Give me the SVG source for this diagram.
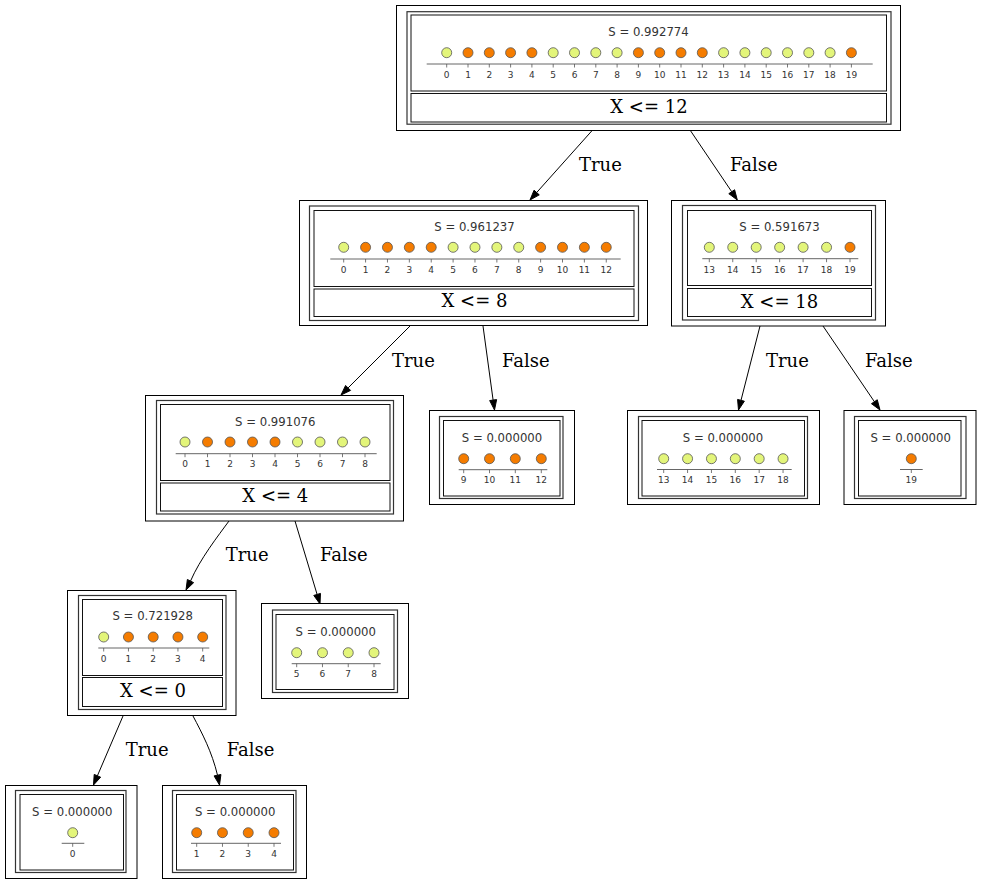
<svg xmlns="http://www.w3.org/2000/svg" width="981" height="885" viewBox="0 0 981 885">
<style>
.bg{fill:#fff}
.outer{fill:#fff;stroke:#000;stroke-width:1}
.tbl{fill:none;stroke:#333;stroke-width:1.2}
.cell{fill:none;stroke:#111;stroke-width:1}
.s{font-family:"DejaVu Sans",sans-serif;font-size:11.7px;fill:#333;text-anchor:middle}
.lb{font-family:"DejaVu Sans",sans-serif;font-size:9px;fill:#333;text-anchor:middle}
.ax{stroke:#555;stroke-width:0.9;fill:none}
.tk{stroke:#555;stroke-width:0.8;fill:none}
.dl{fill:#e3f57a;stroke:#555;stroke-width:0.8}
.do{fill:#f57c00;stroke:#555;stroke-width:0.8}
.split{font-family:"DejaVu Serif",serif;font-size:18px;fill:#000;text-anchor:middle}
.el{font-family:"DejaVu Serif",serif;font-size:18px;fill:#000}
.edge{stroke:#000;stroke-width:1;fill:none}
.ah{fill:#000;stroke:#000;stroke-width:1}
</style>
<rect class="bg" x="0" y="0" width="981" height="885"/>

<g id="connectors">
<path class="edge" d="M591.7,131 L536.7,192.5"/>
<polygon class="ah" points="530,200 539.28,194.87 534.06,190.21"/>
<text class="el" x="579" y="170.7">True</text>
<path class="edge" d="M690.7,131 L731.7,191.7"/>
<polygon class="ah" points="737.3,200 734.6,189.75 728.8,193.67"/>
<text class="el" x="730" y="170.7">False</text>

<path class="edge" d="M410,326 L348.1,387.9"/>
<polygon class="ah" points="341,395 350.54,390.4 345.6,385.46"/>
<text class="el" x="392" y="366.5">True</text>
<path class="edge" d="M483,326 L493.1,400.1"/>
<polygon class="ah" points="494.5,410 496.61,399.62 489.67,400.56"/>
<text class="el" x="502" y="366.5">False</text>

<path class="edge" d="M760,326 L741,400.3"/>
<polygon class="ah" points="738.5,410 744.37,401.18 737.59,399.44"/>
<text class="el" x="766" y="366.5">True</text>
<path class="edge" d="M823,326 L874.4,401.7"/>
<polygon class="ah" points="880,410 877.28,399.75 871.48,403.69"/>
<text class="el" x="865" y="366.5">False</text>

<path class="edge" d="M229,521 C218,536 200,559 190.5,581.1"/>
<polygon class="ah" points="186,590 193.63,582.65 187.37,579.49"/>
<text class="el" x="225.7" y="560.5">True</text>
<path class="edge" d="M295,521 L317.1,594.4"/>
<polygon class="ah" points="320,604 320.47,593.41 313.77,595.43"/>
<text class="el" x="320" y="560.5">False</text>

<path class="edge" d="M123,716 L97.4,775.8"/>
<polygon class="ah" points="93.5,785 100.65,777.18 94.21,774.42"/>
<text class="el" x="125.7" y="755.5">True</text>
<path class="edge" d="M193,716 C202,733 212,752 217.5,775.2"/>
<polygon class="ah" points="219.5,785 220.93,774.5 214.07,775.9"/>
<text class="el" x="226.7" y="755.5">False</text>
</g>

<g id="root">
<rect class="outer" x="396.5" y="5.5" width="504" height="125"/>
<rect class="tbl" x="407" y="11.7" width="484" height="112.5"/>
<rect class="cell" x="411" y="15" width="475.5" height="76"/>
<rect class="cell" x="411" y="93.5" width="475.5" height="28.5"/>
<text class="s" x="648.5" y="36">S = 0.992774</text>
<line class="ax" x1="426.7" y1="64" x2="872.7" y2="64"/>
<path class="tk" d="M446.7,64v3.5M468,64v3.5M489.3,64v3.5M510.6,64v3.5M531.9,64v3.5M553.2,64v3.5M574.5,64v3.5M595.8,64v3.5M617.1,64v3.5M638.4,64v3.5M659.7,64v3.5M681,64v3.5M702.3,64v3.5M723.6,64v3.5M744.9,64v3.5M766.2,64v3.5M787.5,64v3.5M808.8,64v3.5M830.1,64v3.5M851.4,64v3.5"/>
<circle class="dl" cx="446.7" cy="52.7" r="5"/>
<circle class="do" cx="468" cy="52.7" r="5"/>
<circle class="do" cx="489.3" cy="52.7" r="5"/>
<circle class="do" cx="510.6" cy="52.7" r="5"/>
<circle class="do" cx="531.9" cy="52.7" r="5"/>
<circle class="dl" cx="553.2" cy="52.7" r="5"/>
<circle class="dl" cx="574.5" cy="52.7" r="5"/>
<circle class="dl" cx="595.8" cy="52.7" r="5"/>
<circle class="dl" cx="617.1" cy="52.7" r="5"/>
<circle class="do" cx="638.4" cy="52.7" r="5"/>
<circle class="do" cx="659.7" cy="52.7" r="5"/>
<circle class="do" cx="681" cy="52.7" r="5"/>
<circle class="do" cx="702.3" cy="52.7" r="5"/>
<circle class="dl" cx="723.6" cy="52.7" r="5"/>
<circle class="dl" cx="744.9" cy="52.7" r="5"/>
<circle class="dl" cx="766.2" cy="52.7" r="5"/>
<circle class="dl" cx="787.5" cy="52.7" r="5"/>
<circle class="dl" cx="808.8" cy="52.7" r="5"/>
<circle class="dl" cx="830.1" cy="52.7" r="5"/>
<circle class="do" cx="851.4" cy="52.7" r="5"/>
<text class="lb" x="446.7" y="78.3">0</text>
<text class="lb" x="468" y="78.3">1</text>
<text class="lb" x="489.3" y="78.3">2</text>
<text class="lb" x="510.6" y="78.3">3</text>
<text class="lb" x="531.9" y="78.3">4</text>
<text class="lb" x="553.2" y="78.3">5</text>
<text class="lb" x="574.5" y="78.3">6</text>
<text class="lb" x="595.8" y="78.3">7</text>
<text class="lb" x="617.1" y="78.3">8</text>
<text class="lb" x="638.4" y="78.3">9</text>
<text class="lb" x="659.7" y="78.3">10</text>
<text class="lb" x="681" y="78.3">11</text>
<text class="lb" x="702.3" y="78.3">12</text>
<text class="lb" x="723.6" y="78.3">13</text>
<text class="lb" x="744.9" y="78.3">14</text>
<text class="lb" x="766.2" y="78.3">15</text>
<text class="lb" x="787.5" y="78.3">16</text>
<text class="lb" x="808.8" y="78.3">17</text>
<text class="lb" x="830.1" y="78.3">18</text>
<text class="lb" x="851.4" y="78.3">19</text>
<text class="split" x="649" y="113.3">X &lt;= 12</text>
</g>

<g id="node-x8">
<rect class="outer" x="299.5" y="200.5" width="348" height="125"/>
<rect class="tbl" x="309.5" y="206" width="329" height="114.5"/>
<rect class="cell" x="314" y="210.5" width="320" height="76"/>
<rect class="cell" x="314" y="289" width="320" height="27.5"/>
<text class="s" x="474.5" y="230.5">S = 0.961237</text>
<line class="ax" x1="330.3" y1="259" x2="620.7" y2="259"/>
<path class="tk" d="M343.7,259v3.5M365.58,259v3.5M387.46,259v3.5M409.34,259v3.5M431.22,259v3.5M453.1,259v3.5M474.98,259v3.5M496.86,259v3.5M518.74,259v3.5M540.62,259v3.5M562.5,259v3.5M584.38,259v3.5M606.26,259v3.5"/>
<circle class="dl" cx="343.7" cy="247.3" r="5"/>
<circle class="do" cx="365.58" cy="247.3" r="5"/>
<circle class="do" cx="387.46" cy="247.3" r="5"/>
<circle class="do" cx="409.34" cy="247.3" r="5"/>
<circle class="do" cx="431.22" cy="247.3" r="5"/>
<circle class="dl" cx="453.1" cy="247.3" r="5"/>
<circle class="dl" cx="474.98" cy="247.3" r="5"/>
<circle class="dl" cx="496.86" cy="247.3" r="5"/>
<circle class="dl" cx="518.74" cy="247.3" r="5"/>
<circle class="do" cx="540.62" cy="247.3" r="5"/>
<circle class="do" cx="562.5" cy="247.3" r="5"/>
<circle class="do" cx="584.38" cy="247.3" r="5"/>
<circle class="do" cx="606.26" cy="247.3" r="5"/>
<text class="lb" x="343.7" y="273">0</text>
<text class="lb" x="365.58" y="273">1</text>
<text class="lb" x="387.46" y="273">2</text>
<text class="lb" x="409.34" y="273">3</text>
<text class="lb" x="431.22" y="273">4</text>
<text class="lb" x="453.1" y="273">5</text>
<text class="lb" x="474.98" y="273">6</text>
<text class="lb" x="496.86" y="273">7</text>
<text class="lb" x="518.74" y="273">8</text>
<text class="lb" x="540.62" y="273">9</text>
<text class="lb" x="562.5" y="273">10</text>
<text class="lb" x="584.38" y="273">11</text>
<text class="lb" x="606.26" y="273">12</text>
<text class="split" x="474.5" y="307.3">X &lt;= 8</text>
</g>

<g id="node-x18">
<rect class="outer" x="671.5" y="200.5" width="214" height="125.5"/>
<rect class="tbl" x="682.5" y="205.5" width="193" height="114.5"/>
<rect class="cell" x="687.5" y="210.5" width="184" height="75"/>
<rect class="cell" x="687.5" y="288.5" width="184" height="28"/>
<text class="s" x="779.5" y="230.5">S = 0.591673</text>
<line class="ax" x1="702.3" y1="258.7" x2="858.3" y2="258.7"/>
<path class="tk" d="M709.3,258.7v3.5M732.75,258.7v3.5M756.2,258.7v3.5M779.65,258.7v3.5M803.1,258.7v3.5M826.55,258.7v3.5M850,258.7v3.5"/>
<circle class="dl" cx="709.3" cy="247.3" r="5"/>
<circle class="dl" cx="732.75" cy="247.3" r="5"/>
<circle class="dl" cx="756.2" cy="247.3" r="5"/>
<circle class="dl" cx="779.65" cy="247.3" r="5"/>
<circle class="dl" cx="803.1" cy="247.3" r="5"/>
<circle class="dl" cx="826.55" cy="247.3" r="5"/>
<circle class="do" cx="850" cy="247.3" r="5"/>
<text class="lb" x="709.3" y="272.5">13</text>
<text class="lb" x="732.75" y="272.5">14</text>
<text class="lb" x="756.2" y="272.5">15</text>
<text class="lb" x="779.65" y="272.5">16</text>
<text class="lb" x="803.1" y="272.5">17</text>
<text class="lb" x="826.55" y="272.5">18</text>
<text class="lb" x="850" y="272.5">19</text>
<text class="split" x="779.5" y="308">X &lt;= 18</text>
</g>

<g id="node-x4">
<rect class="outer" x="145.5" y="395.5" width="258" height="125.5"/>
<rect class="tbl" x="156.5" y="400.5" width="237" height="113.5"/>
<rect class="cell" x="160.5" y="404.5" width="229.5" height="76"/>
<rect class="cell" x="160.5" y="483" width="229.5" height="28"/>
<text class="s" x="275.3" y="425.5">S = 0.991076</text>
<line class="ax" x1="175.7" y1="453.7" x2="376.7" y2="453.7"/>
<path class="tk" d="M185,453.7v3.5M207.5,453.7v3.5M230,453.7v3.5M252.5,453.7v3.5M275,453.7v3.5M297.5,453.7v3.5M320,453.7v3.5M342.5,453.7v3.5M365,453.7v3.5"/>
<circle class="dl" cx="185" cy="442" r="5"/>
<circle class="do" cx="207.5" cy="442" r="5"/>
<circle class="do" cx="230" cy="442" r="5"/>
<circle class="do" cx="252.5" cy="442" r="5"/>
<circle class="do" cx="275" cy="442" r="5"/>
<circle class="dl" cx="297.5" cy="442" r="5"/>
<circle class="dl" cx="320" cy="442" r="5"/>
<circle class="dl" cx="342.5" cy="442" r="5"/>
<circle class="dl" cx="365" cy="442" r="5"/>
<text class="lb" x="185" y="467.3">0</text>
<text class="lb" x="207.5" y="467.3">1</text>
<text class="lb" x="230" y="467.3">2</text>
<text class="lb" x="252.5" y="467.3">3</text>
<text class="lb" x="275" y="467.3">4</text>
<text class="lb" x="297.5" y="467.3">5</text>
<text class="lb" x="320" y="467.3">6</text>
<text class="lb" x="342.5" y="467.3">7</text>
<text class="lb" x="365" y="467.3">8</text>
<text class="split" x="275.3" y="502.3">X &lt;= 4</text>
</g>

<g id="leaf-9-12">
<rect class="outer" x="429.5" y="410.5" width="145" height="94"/>
<rect class="tbl" x="439.5" y="416.5" width="123.5" height="82"/>
<rect class="cell" x="443.5" y="420.5" width="116.5" height="75.5"/>
<text class="s" x="502" y="441.5">S = 0.000000</text>
<line class="ax" x1="458.7" y1="469.7" x2="547.3" y2="469.7"/>
<path class="tk" d="M463.7,469.7v3.5M489.5,469.7v3.5M515.3,469.7v3.5M541.3,469.7v3.5"/>
<circle class="do" cx="463.7" cy="458.7" r="5"/>
<circle class="do" cx="489.5" cy="458.7" r="5"/>
<circle class="do" cx="515.3" cy="458.7" r="5"/>
<circle class="do" cx="541.3" cy="458.7" r="5"/>
<text class="lb" x="463.7" y="483.3">9</text>
<text class="lb" x="489.5" y="483.3">10</text>
<text class="lb" x="515.3" y="483.3">11</text>
<text class="lb" x="541.3" y="483.3">12</text>
</g>

<g id="leaf-13-18">
<rect class="outer" x="627.5" y="410.5" width="192" height="94"/>
<rect class="tbl" x="638.5" y="416.5" width="169" height="82"/>
<rect class="cell" x="642" y="420.5" width="162.5" height="75.5"/>
<text class="s" x="723" y="441.5">S = 0.000000</text>
<line class="ax" x1="657" y1="469.5" x2="791.7" y2="469.5"/>
<path class="tk" d="M663.7,469.5v3.5M687.57,469.5v3.5M711.44,469.5v3.5M735.31,469.5v3.5M759.18,469.5v3.5M783.05,469.5v3.5"/>
<circle class="dl" cx="663.7" cy="458.7" r="5"/>
<circle class="dl" cx="687.57" cy="458.7" r="5"/>
<circle class="dl" cx="711.44" cy="458.7" r="5"/>
<circle class="dl" cx="735.31" cy="458.7" r="5"/>
<circle class="dl" cx="759.18" cy="458.7" r="5"/>
<circle class="dl" cx="783.05" cy="458.7" r="5"/>
<text class="lb" x="663.7" y="483">13</text>
<text class="lb" x="687.57" y="483">14</text>
<text class="lb" x="711.44" y="483">15</text>
<text class="lb" x="735.31" y="483">16</text>
<text class="lb" x="759.18" y="483">17</text>
<text class="lb" x="783.05" y="483">18</text>
</g>

<g id="leaf-19">
<rect class="outer" x="844" y="410.5" width="132" height="94"/>
<rect class="tbl" x="854.5" y="416.5" width="111.5" height="82"/>
<rect class="cell" x="858.5" y="420.5" width="102.5" height="75.5"/>
<text class="s" x="910.7" y="441.5">S = 0.000000</text>
<line class="ax" x1="900" y1="469.5" x2="922.7" y2="469.5"/>
<path class="tk" d="M911.3,469.5v3.5"/>
<circle class="do" cx="911.3" cy="458.7" r="5"/>
<text class="lb" x="911.3" y="483">19</text>
</g>

<g id="node-x0">
<rect class="outer" x="67.5" y="590.5" width="168.5" height="125"/>
<rect class="tbl" x="78.5" y="595.5" width="147.5" height="114"/>
<rect class="cell" x="82.5" y="599.5" width="140" height="76"/>
<rect class="cell" x="82.5" y="677.5" width="140" height="29"/>
<text class="s" x="152.7" y="619.5">S = 0.721928</text>
<line class="ax" x1="98.3" y1="648" x2="209.3" y2="648"/>
<path class="tk" d="M103.7,648v3.5M128.45,648v3.5M153.2,648v3.5M177.95,648v3.5M202.7,648v3.5"/>
<circle class="dl" cx="103.7" cy="637" r="5"/>
<circle class="do" cx="128.45" cy="637" r="5"/>
<circle class="do" cx="153.2" cy="637" r="5"/>
<circle class="do" cx="177.95" cy="637" r="5"/>
<circle class="do" cx="202.7" cy="637" r="5"/>
<text class="lb" x="103.7" y="662.3">0</text>
<text class="lb" x="128.45" y="662.3">1</text>
<text class="lb" x="153.2" y="662.3">2</text>
<text class="lb" x="177.95" y="662.3">3</text>
<text class="lb" x="202.7" y="662.3">4</text>
<text class="split" x="153" y="697.3">X &lt;= 0</text>
</g>

<g id="leaf-5-8">
<rect class="outer" x="261.5" y="603.5" width="147" height="95"/>
<rect class="tbl" x="272.5" y="610" width="125" height="82.5"/>
<rect class="cell" x="276" y="614.5" width="118" height="75"/>
<text class="s" x="335.8" y="636.3">S = 0.000000</text>
<line class="ax" x1="291.7" y1="663.7" x2="380.7" y2="663.7"/>
<path class="tk" d="M296.7,663.7v3.5M322.47,663.7v3.5M348.24,663.7v3.5M374,663.7v3.5"/>
<circle class="dl" cx="296.7" cy="652.7" r="5"/>
<circle class="dl" cx="322.47" cy="652.7" r="5"/>
<circle class="dl" cx="348.24" cy="652.7" r="5"/>
<circle class="dl" cx="374" cy="652.7" r="5"/>
<text class="lb" x="296.7" y="677.3">5</text>
<text class="lb" x="322.47" y="677.3">6</text>
<text class="lb" x="348.24" y="677.3">7</text>
<text class="lb" x="374" y="677.3">8</text>
</g>

<g id="leaf-0">
<rect class="outer" x="5.5" y="785.5" width="131.5" height="93"/>
<rect class="tbl" x="15.5" y="790.5" width="110.5" height="82"/>
<rect class="cell" x="20" y="794.5" width="103.5" height="75.5"/>
<text class="s" x="72.3" y="816.3">S = 0.000000</text>
<line class="ax" x1="61.7" y1="843.3" x2="84.3" y2="843.3"/>
<path class="tk" d="M72.7,843.3v3.5"/>
<circle class="dl" cx="72.7" cy="832.7" r="5"/>
<text class="lb" x="72.7" y="857.3">0</text>
</g>

<g id="leaf-1-4">
<rect class="outer" x="162.5" y="785.5" width="144" height="93"/>
<rect class="tbl" x="172.5" y="790.5" width="123.5" height="82"/>
<rect class="cell" x="176.5" y="794.5" width="117" height="75.5"/>
<text class="s" x="235.2" y="816.3">S = 0.000000</text>
<line class="ax" x1="191" y1="843.3" x2="281" y2="843.3"/>
<path class="tk" d="M196.7,843.3v3.5M222.47,843.3v3.5M248.24,843.3v3.5M274,843.3v3.5"/>
<circle class="do" cx="196.7" cy="832.7" r="5"/>
<circle class="do" cx="222.47" cy="832.7" r="5"/>
<circle class="do" cx="248.24" cy="832.7" r="5"/>
<circle class="do" cx="274" cy="832.7" r="5"/>
<text class="lb" x="196.7" y="857.3">1</text>
<text class="lb" x="222.47" y="857.3">2</text>
<text class="lb" x="248.24" y="857.3">3</text>
<text class="lb" x="274" y="857.3">4</text>
</g>
</svg>
